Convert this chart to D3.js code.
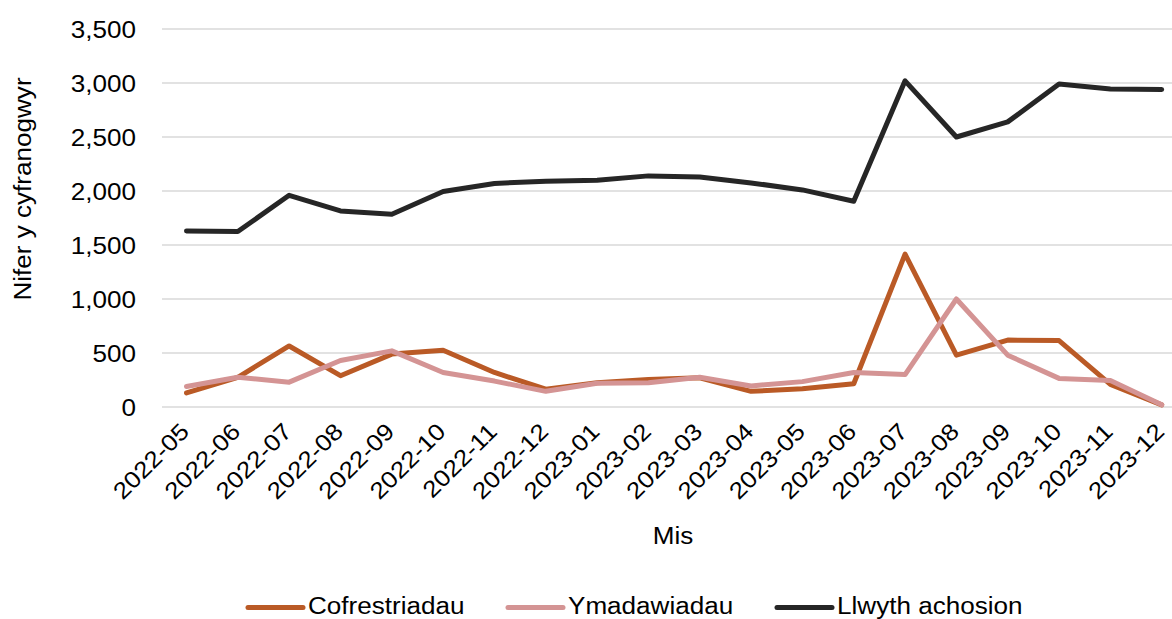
<!DOCTYPE html>
<html>
<head>
<meta charset="utf-8">
<script src="https://d3js.org/d3.v7.min.js"></script>
<style>
  body { margin: 0; background: #fff; }
  svg { display: block; font-family: 'Liberation Sans', Arial, sans-serif; }
</style>
</head>
<body>
<div id="chart"></div>
<script>

// data
var months = ["2022-05","2022-06","2022-07","2022-08","2022-09","2022-10","2022-11","2022-12",
  "2023-01","2023-02","2023-03","2023-04","2023-05","2023-06","2023-07","2023-08",
  "2023-09","2023-10","2023-11","2023-12"];
var cofrestriadau = [130,275,565,290,490,525,320,165,225,255,270,145,170,215,1415,480,620,615,210,20];
var ymadawiadau   = [190,275,230,430,520,320,240,145,220,225,275,195,235,320,300,1000,480,265,245,20];
var llwyth        = [1630,1625,1960,1815,1785,1995,2070,2090,2100,2140,2130,2075,2010,1905,3020,2500,2640,2990,2945,2940];
var yTicks = [0,500,1000,1500,2000,2500,3000,3500];
var seriesNames = ["Cofrestriadau","Ymadawiadau","Llwyth achosion"];
var seriesColors = ["#BA5A26","#D49494","#262626"];

var W = 1172, H = 619;
var fs = 23.3;          // font size
var stretch = "scale(1.12,1)";

var svg = d3.select("#chart").append("svg")
    .attr("width", W)
    .attr("height", H);

var x = d3.scalePoint()
    .domain(months)
    .range([186.5, 1161.7]);

var y = d3.scaleLinear()
    .domain([0, 3500])
    .range([407, 29]);

// gridlines
svg.append("g").selectAll("line")
    .data(yTicks)
    .enter().append("line")
    .attr("x1", 162)
    .attr("x2", W)
    .attr("y1", function(d) { return y(d); })
    .attr("y2", function(d) { return y(d); })
    .style("stroke", "#d9d9d9")
    .style("stroke-width", "1.5px");

// y tick labels
svg.append("g").selectAll("text")
    .data(yTicks)
    .enter().append("text")
    .attr("transform", function(d) { return "translate(136," + (y(d) + 8.5) + ") " + stretch; })
    .attr("text-anchor", "end")
    .style("font-size", fs + "px")
    .text(function(d) { return d3.format(",")(d); });

// x tick labels
svg.append("g").selectAll("text")
    .data(months)
    .enter().append("text")
    .attr("transform", function(d) { return "translate(" + (x(d) + 4) + ",433) rotate(-45) " + stretch; })
    .attr("text-anchor", "end")
    .style("font-size", fs + "px")
    .text(function(d) { return d; });

// axis titles
svg.append("text")
    .attr("transform", "translate(673,544) " + stretch)
    .attr("text-anchor", "middle")
    .style("font-size", fs + "px")
    .text("Mis");

svg.append("text")
    .attr("transform", "translate(31,189) rotate(-90) " + stretch)
    .attr("text-anchor", "middle")
    .style("font-size", fs + "px")
    .text("Nifer y cyfranogwyr");

// lines
var allSeries = [cofrestriadau, ymadawiadau, llwyth];
var line = d3.line()
    .x(function(d, i) { return x(months[i]); })
    .y(function(d) { return y(d); });

allSeries.forEach(function(s, i) {
    svg.append("path")
        .datum(s)
        .attr("d", line)
        .style("fill", "none")
        .style("stroke", seriesColors[i])
        .style("stroke-width", "5px")
        .style("stroke-linejoin", "round")
        .style("stroke-linecap", "round");
});

// legend
var legendX = [248, 508, 777];
seriesNames.forEach(function(name, i) {
    svg.append("line")
        .attr("x1", legendX[i])
        .attr("x2", legendX[i] + 55)
        .attr("y1", 607.5)
        .attr("y2", 607.5)
        .style("stroke", seriesColors[i])
        .style("stroke-width", "5px")
        .style("stroke-linecap", "round");
    svg.append("text")
        .attr("transform", "translate(" + (legendX[i] + 60) + ",613.5) " + stretch)
        .style("font-size", fs + "px")
        .text(name);
});

</script>
</body>
</html>
